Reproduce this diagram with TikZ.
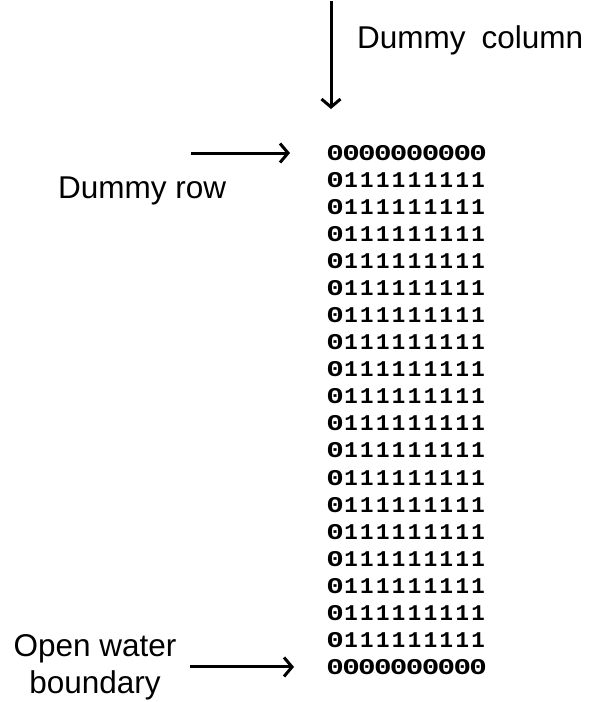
\documentclass[tikz,border=0pt]{standalone}
\usepackage{fontspec}
\usepackage{graphicx}
\setmainfont{Liberation Sans}
\newfontfamily\digfont{Liberation Mono}
\usetikzlibrary{arrows.meta}
\newcommand\dg[1]{\makebox[15.9pt]{#1}}
\newcommand\zz{\makebox[15.9pt]{\scalebox{1.3}[1]{0}}}
\newcommand\zrow{\zz\zz\zz\zz\zz\zz\zz\zz\zz\zz}
\newcommand\orow{\zz\dg1\dg1\dg1\dg1\dg1\dg1\dg1\dg1\dg1}
\begin{document}
\begin{tikzpicture}[x=1pt,y=-1pt,
  lbl/.style={font=\fontsize{31.5}{37}\selectfont, inner sep=0pt, anchor=base west},
  digrow/.style={font=\digfont\bfseries\fontsize{22.5}{22.5}\selectfont, inner sep=0pt, anchor=west},
  arr/.style={line width=3pt, -{Straight Barb[length=8pt,width=19pt,line width=3pt]}}]
\useasboundingbox (0,0) rectangle (603,702);
% digit rows
\node[digrow] (row1) at (327,153) {\zrow};
\foreach \k in {2,...,19} {
  \node[digrow] (row\k) at (327,{153+27.05*(\k-1)}) {\orow};
}
\node[digrow] (row20) at (327,{153+27.05*19}) {\zrow};
% labels
\node[lbl] (dcol) at (357,48) {Dummy\hspace{16pt}column};
\node[lbl] (drow) at (58,198) {Dummy row};
\node[lbl, anchor=base, align=center] (owb) at (95,693) {Open water\\boundary};
% arrows
\coordinate (colstart) at (331,1);
\coordinate (colend) at (331,109);
\draw[arr] (colstart) -- (colend);
\coordinate (rowstart) at (191,153);
\draw[arr] (rowstart) -- ([xshift=-37pt]row1.west);
\coordinate (obstart) at (190,{153+27.05*19});
\draw[arr] (obstart) -- ([xshift=-33pt]row20.west);
\end{tikzpicture}
\end{document}
